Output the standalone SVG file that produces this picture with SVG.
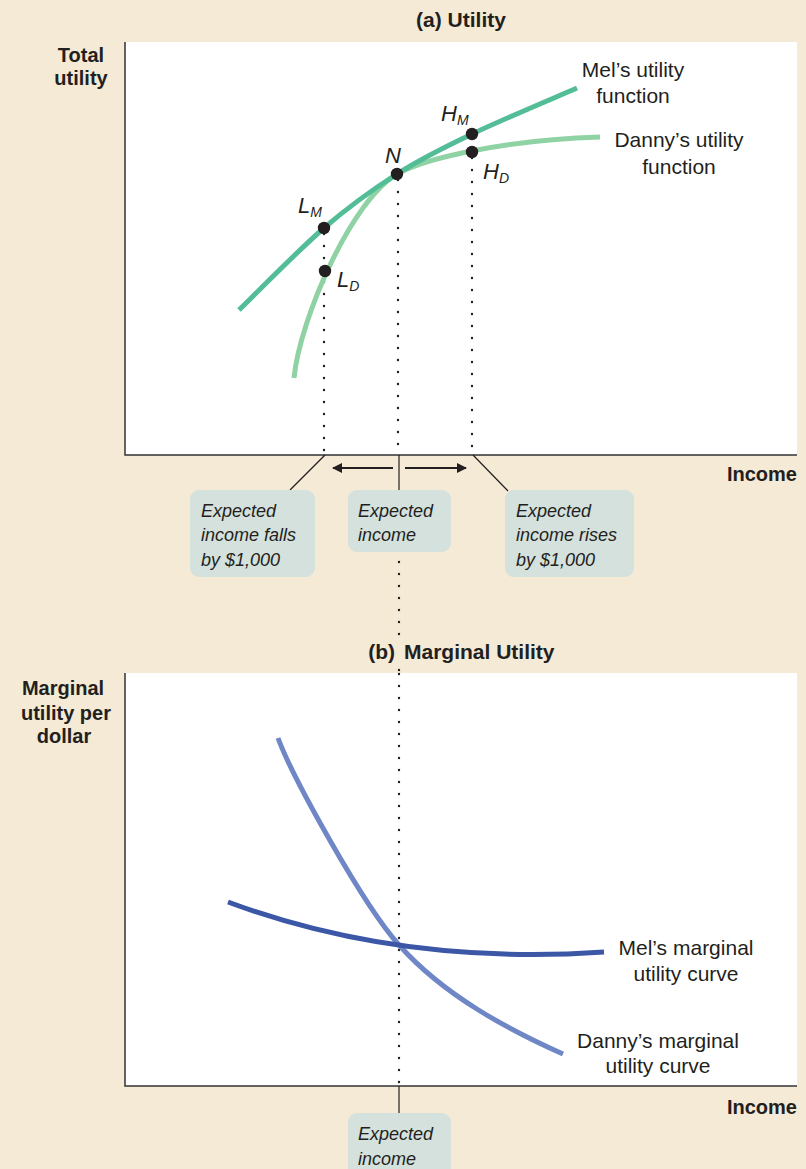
<svg xmlns="http://www.w3.org/2000/svg" width="806" height="1169" viewBox="0 0 806 1169">
<defs>
<style>
.t{font-family:"Liberation Sans",Arial,sans-serif;fill:#231f20}
.b{font-weight:bold;font-size:20px}
.ttl{font-weight:bold;font-size:21px}
.lab{font-size:21px}
.pt{font-size:22px;font-style:italic}
.sub{font-size:14px}
.box{fill:#d5e1dd}
.bx{font-size:18px;font-style:italic}
.axis{stroke:#333;stroke-width:1.5;fill:none}
.dot{stroke:#231f20;stroke-width:2.4;stroke-linecap:round;stroke-dasharray:0 12;fill:none}
.lead{stroke:#231f20;stroke-width:1.2;fill:none}
.arr{stroke:#231f20;stroke-width:2;fill:none;marker-end:url(#ah)}
.cv{fill:none;stroke-width:5;stroke-linecap:butt}
</style>
<marker id="ah" viewBox="0 0 10 10" refX="9" refY="5" markerWidth="5" markerHeight="5" orient="auto" markerUnits="strokeWidth">
<path d="M0,0 L10,5 L0,10 z" fill="#231f20"/>
</marker>
</defs>
<rect width="806" height="1169" fill="#f4ead6"/>

<g id="panel-a">
<text class="t ttl" x="461" y="27" text-anchor="middle">(a) Utility</text>
<rect x="125" y="42" width="672" height="413" fill="#ffffff"/>
<path class="axis" d="M125,42 V455 H797"/>
<text class="t b" x="81" y="62" text-anchor="middle">Total</text>
<text class="t b" x="81" y="85" text-anchor="middle">utility</text>
<text class="t b" x="797" y="481" text-anchor="end">Income</text>
</g>

<g id="connectors">
<path class="dot" d="M324,234 V455"/>
<path class="dot" d="M398,180 V455"/>
<path class="dot" d="M472,158 V455"/>
<path class="dot" d="M399,562 V640"/>
<path class="dot" d="M399,670 V1086"/>
<path class="lead" d="M325,455 L290,490"/>
<path class="lead" d="M399,455 V490"/>
<path class="lead" d="M473,455 L508,491"/>
<path class="lead" d="M399,1086 V1113"/>
<path class="arr" d="M393,468 H333"/>
<path class="arr" d="M405,468 H466"/>
</g>

<g id="danny-utility">
<path class="cv" stroke="#8fd2a3" d="M294,378 C300,318 352,200 397,174 C422,159.5 500,140 600,137"/>
<text class="t lab" x="679" y="147" text-anchor="middle">Danny’s utility</text>
<text class="t lab" x="679" y="174" text-anchor="middle">function</text>
</g>

<g id="mel-utility">
<path class="cv" stroke="#52bd97" d="M239,310 C253.2,296.3 297.7,250.7 324,228 C350.3,205.3 372.3,189.7 397,174 C421.7,158.3 442,148.3 472,134 C502,119.7 559.5,95.7 577,88"/>
<text class="t lab" x="633" y="77" text-anchor="middle">Mel’s utility</text>
<text class="t lab" x="633" y="103" text-anchor="middle">function</text>
</g>

<g id="point-LM">
<circle cx="324" cy="228" r="6.2" fill="#231f20"/>
<text class="t pt" x="298" y="213">L<tspan class="sub" dy="4">M</tspan></text>
</g>
<g id="point-LD">
<circle cx="325" cy="271" r="6.2" fill="#231f20"/>
<text class="t pt" x="337" y="287">L<tspan class="sub" dy="4">D</tspan></text>
</g>
<g id="point-N">
<circle cx="397" cy="174" r="6.2" fill="#231f20"/>
<text class="t pt" x="393" y="163" text-anchor="middle">N</text>
</g>
<g id="point-HM">
<circle cx="472" cy="134" r="6.2" fill="#231f20"/>
<text class="t pt" x="441" y="121">H<tspan class="sub" dy="4">M</tspan></text>
</g>
<g id="point-HD">
<circle cx="472" cy="152" r="6.2" fill="#231f20"/>
<text class="t pt" x="483" y="179">H<tspan class="sub" dy="4">D</tspan></text>
</g>

<g id="box-falls">
<rect class="box" x="190" y="490" width="125" height="87" rx="9"/>
<text class="t bx" x="201" y="517">Expected</text>
<text class="t bx" x="201" y="541">income falls</text>
<text class="t bx" x="201" y="566">by $1,000</text>
</g>
<g id="box-expected">
<rect class="box" x="348" y="490" width="103" height="62" rx="9"/>
<text class="t bx" x="358" y="517">Expected</text>
<text class="t bx" x="358" y="541">income</text>
</g>
<g id="box-rises">
<rect class="box" x="505" y="490" width="129" height="87" rx="9"/>
<text class="t bx" x="516" y="517">Expected</text>
<text class="t bx" x="516" y="541">income rises</text>
<text class="t bx" x="516" y="566">by $1,000</text>
</g>

<g id="panel-b">
<text class="t ttl" x="395" y="659" text-anchor="end">(b)</text>
<text class="t ttl" x="404" y="659">Marginal Utility</text>
<rect x="125" y="673" width="672" height="413" fill="#ffffff"/>
<path class="axis" d="M125,673 V1086 H797"/>
<text class="t b" x="63" y="695" text-anchor="middle">Marginal</text>
<text class="t b" x="66" y="720" text-anchor="middle">utility per</text>
<text class="t b" x="64" y="743" text-anchor="middle">dollar</text>
<text class="t b" x="797" y="1114" text-anchor="end">Income</text>
</g>
<path class="dot" d="M399,674 V1086"/>

<g id="danny-mu">
<path class="cv" stroke="#6f87c6" d="M278,738 C292,776 362,903.6 399,945 C444,995.6 508,1029.4 563,1054"/>
<text class="t lab" x="658" y="1048" text-anchor="middle">Danny’s marginal</text>
<text class="t lab" x="658" y="1073" text-anchor="middle">utility curve</text>
</g>
<g id="mel-mu">
<path class="cv" stroke="#3b57a6" d="M228,902 Q400,966 604,952"/>
<text class="t lab" x="686" y="955" text-anchor="middle">Mel’s marginal</text>
<text class="t lab" x="686" y="981" text-anchor="middle">utility curve</text>
</g>

<g id="box-expected-b">
<rect class="box" x="348" y="1113" width="103" height="70" rx="9"/>
<text class="t bx" x="358" y="1140">Expected</text>
<text class="t bx" x="358" y="1165">income</text>
</g>
</svg>
